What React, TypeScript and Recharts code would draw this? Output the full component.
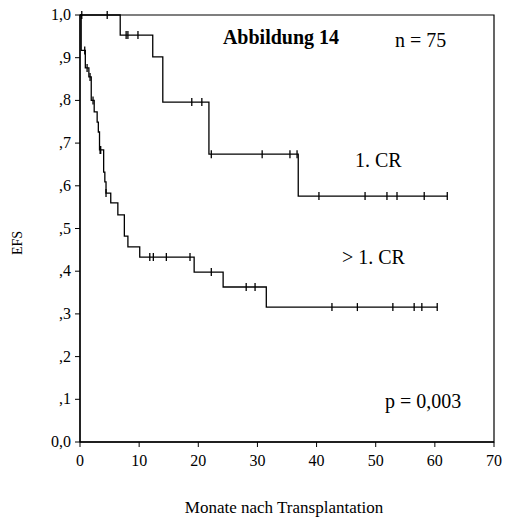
import { ComposedChart, Line, Scatter, XAxis, YAxis, ReferenceArea } from 'recharts';

const xTicks = [0, 10, 20, 30, 40, 50, 60, 70];
const yTicks = [0, 0.1, 0.2, 0.3, 0.4, 0.5, 0.6, 0.7, 0.8, 0.9, 1];
const yTickLabels = ['0,0', ',1', ',2', ',3', ',4', ',5', ',6', ',7', ',8', ',9', '1,0'];

// 1. CR
const crTimes = [0, 6.8, 12.3, 14.0, 21.8, 36.9, 62.1];
const crSurv = [1, 0.953, 0.902, 0.796, 0.674, 0.576, 0.576];
const crCensored = [0.3, 4.6, 7.8, 8.1, 9.8, 18.9, 20.6, 22.2, 30.8, 35.5, 36.7, 40.4, 48.2, 51.9, 53.6, 58.2, 62.1];

// > 1. CR
const laterTimes = [0, 0.2, 0.9, 1.5, 1.9, 2.4, 2.9, 3.1, 3.3, 4.0, 4.2, 4.4, 5.2, 6.4, 7.5, 8.1, 10.1, 19.3, 24.2, 31.5, 60.4];
const laterSurv = [1, 0.917, 0.876, 0.855, 0.8, 0.773, 0.749, 0.726, 0.684, 0.632, 0.609, 0.583, 0.56, 0.532, 0.482, 0.457, 0.433, 0.398, 0.363, 0.316, 0.316];
const laterCensored = [0.8, 1.2, 1.7, 2.2, 3.4, 3.5, 4.4, 11.8, 12.4, 14.6, 18.6, 22.2, 28.1, 29.6, 42.6, 46.9, 52.9, 56.5, 57.8, 60.4];

const toSteps = (times: number[], surv: number[]) => times.map((t, i) => ({ t, s: surv[i] }));

// value of the step curve at time t
const survAt = (times: number[], surv: number[], t: number) => {
  let s = surv[0];
  times.forEach((tt, i) => {
    if (tt <= t) s = surv[i];
  });
  return s;
};

const toMarks = (censored: number[], times: number[], surv: number[]) =>
  censored.map((t) => ({ t, s: survAt(times, surv, t) }));

const crData = toSteps(crTimes, crSurv);
const laterData = toSteps(laterTimes, laterSurv);
const crMarks = toMarks(crCensored, crTimes, crSurv);
const laterMarks = toMarks(laterCensored, laterTimes, laterSurv);

const font = '"Liberation Serif", "Times New Roman", serif';

const CensorTick = (props: any) => {
  const { cx, cy } = props;
  if (cx == null || cy == null) return null;
  return <line x1={cx} x2={cx} y1={cy - 4} y2={cy + 4} stroke="#000" strokeWidth={1.3} />;
};

const XTick = (props: any) => {
  const { x, y, payload } = props;
  return (
    <text x={x} y={y} dy={13} textAnchor="middle" fontSize={16} fontFamily={font} fill="#000">
      {payload.value}
    </text>
  );
};

const YTick = (props: any) => {
  const { x, y, payload } = props;
  return (
    <text x={x} y={y} dy={5} textAnchor="end" fontSize={16} fontFamily={font} fill="#000">
      {yTickLabels[Math.round(payload.value * 10)]}
    </text>
  );
};

export default function App() {
  return (
    <div style={{ position: 'absolute', left: 0, top: 0, width: 506, height: 517, background: '#fff', fontFamily: font }}>
      <ComposedChart width={506} height={517} margin={{ top: 15, right: 12, left: 38, bottom: 45 }}>
        <ReferenceArea x1={0} x2={70} y1={0} y2={1} fill="none" stroke="#000" strokeWidth={1.2} />
        <XAxis
          type="number"
          dataKey="t"
          domain={[0, 70]}
          ticks={xTicks}
          height={30}
          tickSize={5}
          tickMargin={6}
          axisLine={{ stroke: '#000', strokeWidth: 1.3 }}
          tickLine={{ stroke: '#000' }}
          tick={<XTick />}
          allowDuplicatedCategory={false}
        />
        <YAxis
          type="number"
          dataKey="s"
          domain={[0, 1]}
          ticks={yTicks}
          width={42}
          tickSize={5}
          tickMargin={4}
          axisLine={{ stroke: '#000', strokeWidth: 1.3 }}
          tickLine={{ stroke: '#000' }}
          tick={<YTick />}
        />
        <Line data={crData} dataKey="s" type="stepAfter" stroke="#000" strokeWidth={1.3} dot={false} isAnimationActive={false} />
        <Line data={laterData} dataKey="s" type="stepAfter" stroke="#000" strokeWidth={1.3} dot={false} isAnimationActive={false} />
        <Scatter data={crMarks} dataKey="s" shape={CensorTick} isAnimationActive={false} />
        <Scatter data={laterMarks} dataKey="s" shape={CensorTick} isAnimationActive={false} />
      </ComposedChart>
      <svg width={506} height={517} style={{ position: 'absolute', left: 0, top: 0, pointerEvents: 'none' }} fontFamily={font}>
        <text x={281} y={44} textAnchor="middle" fontSize={20} fontWeight="bold">Abbildung 14</text>
        <text x={395} y={47} fontSize={20}>n = 75</text>
        <text x={355} y={167} fontSize={20}>1. CR</text>
        <text x={342} y={264} fontSize={20}>&gt; 1. CR</text>
        <text x={385} y={408} fontSize={20}>p = 0,003</text>
        <text x={284} y={513} textAnchor="middle" fontSize={17}>Monate nach Transplantation</text>
        <text x={0} y={0} transform="translate(22,243) rotate(-90)" textAnchor="middle" fontSize={14}>EFS</text>
      </svg>
    </div>
  );
}
